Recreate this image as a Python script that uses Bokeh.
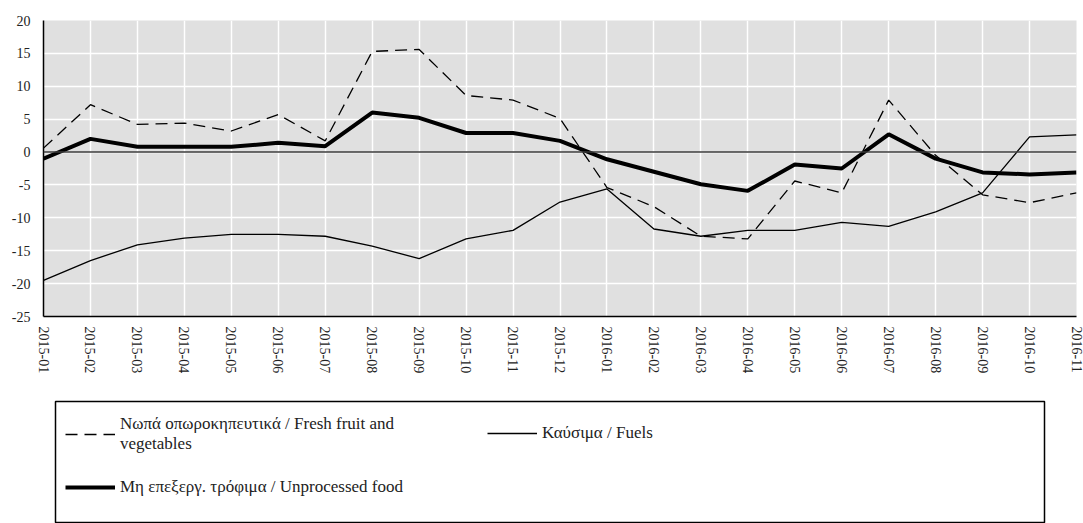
from bokeh.plotting import figure
from bokeh.models import Range1d, FixedTicker, Span, Legend, LegendItem
from bokeh.layouts import column, row
from bokeh.embed import file_html
from bokeh.resources import INLINE

months = ["2015-01", "2015-02", "2015-03", "2015-04", "2015-05", "2015-06",
          "2015-07", "2015-08", "2015-09", "2015-10", "2015-11", "2015-12",
          "2016-01", "2016-02", "2016-03", "2016-04", "2016-05", "2016-06",
          "2016-07", "2016-08", "2016-09", "2016-10", "2016-11"]
fresh = [0.6, 7.2, 4.2, 4.4, 3.2, 5.7, 1.7, 15.3, 15.6, 8.6, 7.9, 5.1,
         -5.4, -8.3, -12.8, -13.2, -4.4, -6.2, 7.9, -0.5, -6.5, -7.7, -6.2]
unprocessed = [-1.0, 2.0, 0.8, 0.8, 0.8, 1.4, 0.9, 6.0, 5.2, 2.9, 2.9, 1.7,
               -1.1, -3.0, -4.9, -5.9, -1.9, -2.5, 2.7, -1.0, -3.1, -3.4, -3.1]
fuels = [-19.5, -16.5, -14.1, -13.1, -12.5, -12.5, -12.8, -14.3, -16.2, -13.2,
         -11.9, -7.6, -5.6, -11.7, -12.8, -11.9, -11.9, -10.7, -11.3, -9.1,
         -6.2, 2.3, 2.6]
y_ticks = [-25, -20, -15, -10, -5, 0, 5, 10, 15, 20]

label_fresh = "Νωπά οπωροκηπευτικά / Fresh fruit and\nvegetables"
label_fuels = "Καύσιμα / Fuels"
label_unproc = "Μη επεξεργ. τρόφιμα / Unprocessed food"

FONT = "Liberation Serif"
x = list(range(len(months)))

p = figure(width=1083, height=393, output_backend="svg", toolbar_location=None,
           x_range=Range1d(0, len(months) - 1), y_range=Range1d(y_ticks[0], y_ticks[-1]),
           min_border_left=43, min_border_right=7, min_border_top=20, min_border_bottom=77)
p.background_fill_color = "#e0e0e0"
p.border_fill_color = "white"
p.outline_line_color = None

p.xaxis.ticker = FixedTicker(ticks=x)
p.xaxis.major_label_overrides = {i: m for i, m in enumerate(months)}
p.xaxis.major_label_orientation = "vertical"
p.yaxis.ticker = FixedTicker(ticks=y_ticks)
p.yaxis.major_label_overrides = {v: str(v) for v in y_ticks}
for ax in (p.xaxis, p.yaxis):
    ax.major_tick_line_color = None
    ax.major_tick_out = 0
    ax.major_tick_in = 0
    ax.minor_tick_line_color = None
    ax.axis_line_color = "black"
    ax.axis_line_width = 1.5
    ax.major_label_text_font = FONT
    ax.major_label_text_font_size = "14px"
    ax.major_label_text_color = "#222222"
p.xaxis.major_label_standoff = 10
p.yaxis.major_label_standoff = 13

p.xgrid.ticker = FixedTicker(ticks=x)
p.ygrid.ticker = FixedTicker(ticks=y_ticks)
for g in (p.xgrid, p.ygrid):
    g.grid_line_color = "white"
    g.grid_line_width = 1.5

p.add_layout(Span(location=0, dimension="width", line_color="#3a3a3a", line_width=1.5))

p.line(x, fuels, line_color="black", line_width=1.3)
p.line(x, fresh, line_color="black", line_width=1.3, line_dash="12 7")
p.line(x, unprocessed, line_color="black", line_width=4)

# legend panel (series drawn out of view, only their legend samples show)
q = figure(width=1083, height=130, output_backend="svg", toolbar_location=None,
           x_range=Range1d(0, 1), y_range=Range1d(1000, 1001),
           x_axis_type=None, y_axis_type=None,
           min_border_left=55, min_border_right=39, min_border_top=8, min_border_bottom=0)
q.grid.visible = False
q.outline_line_color = "black"
q.outline_line_width = 1.5
q.background_fill_color = "white"

rf = q.line(x, fresh, line_color="black", line_width=1.3, line_dash="12 7")
ru = q.line(x, unprocessed, line_color="black", line_width=4)
rl = q.line(x, fuels, line_color="black", line_width=1.3)

def mk_legend(items, loc, spacing):
    return Legend(items=items, location=loc, spacing=spacing, padding=0, margin=0,
                  border_line_color=None, background_fill_alpha=0,
                  glyph_width=50, glyph_height=20, label_standoff=5,
                  label_text_font=FONT, label_text_font_size="17px",
                  label_text_color="#222222")

leg1 = mk_legend([LegendItem(label=label_fresh, renderers=[rf]),
                  LegendItem(label=label_unproc, renderers=[ru])], (10, 26), 23)
leg2 = mk_legend([LegendItem(label=label_fuels, renderers=[rl])], (432, 80), 0)
q.add_layout(leg1, "center")
q.add_layout(leg2, "center")

layout = column(row(p), row(q), spacing=0)
open("out.html", "w").write(file_html(layout, INLINE))
